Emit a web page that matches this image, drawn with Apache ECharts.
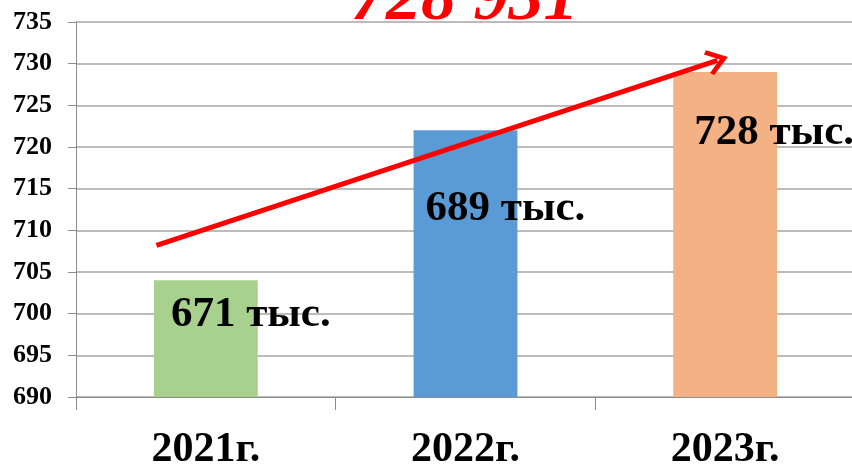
<!DOCTYPE html>
<html>
<head>
<meta charset="utf-8">
<script src="https://cdn.jsdelivr.net/npm/echarts@6/dist/echarts.min.js"></script>
<style>
  html, body { margin: 0; padding: 0; background: #fff; }
  #chart { width: 852px; height: 467px; }
</style>
</head>
<body>
<div id="chart"></div>
<script>
var years = ['2021г.', '2022г.', '2023г.']
var values = [704, 722, 729]
var barLabels = ['671 тыс.', '689 тыс.', '728 тыс.']
var barColors = ['#a9d18e', '#5b9bd5', '#f4b183']
var headline = '728 931'
// trend arrow ends, in (category position, value)
var trendStart = [-0.19, 708.2]
var trendEnd = [1.97, 730.4]

var serif = '"Liberation Serif", "Times New Roman", serif'
// where each label sits inside its bar (px from bar top-left)
var labelPos = [[17, 35], [12, 79], [21, 61]]

var chart = echarts.init(document.getElementById('chart'))

var barData = values.map(function (v, i) {
  return {
    value: v,
    itemStyle: { color: barColors[i] },
    label: { position: labelPos[i] }
  }
})

var option = {
  animation: false,
  title: {
    text: headline,
    left: 346,
    top: -39,
    textStyle: {
      color: '#ff0000',
      fontFamily: serif,
      fontStyle: 'italic',
      fontWeight: 'bold',
      fontSize: 70
    }
  },
  grid: { left: 76, right: -3, top: 22, bottom: 70, outerBoundsMode: 'none', containLabel: false },
  xAxis: [
    {
      type: 'category',
      data: years,
      axisLine: { lineStyle: { color: '#8c8c8c', width: 1 } },
      axisTick: { show: true, length: 13, lineStyle: { color: '#8c8c8c' } },
      axisLabel: {
        margin: 32,
        color: '#000',
        fontFamily: serif,
        fontWeight: 'bold',
        fontSize: 42,
        lineHeight: 42
      }
    },
    {
      type: 'value',
      show: false,
      min: -0.5,
      max: 2.5
    }
  ],
  yAxis: {
    type: 'value',
    min: 690,
    max: 735,
    interval: 5,
    axisLine: { show: true, onZero: false, lineStyle: { color: '#8c8c8c', width: 1 } },
    axisTick: { show: true, length: 8, lineStyle: { color: '#8c8c8c' } },
    splitLine: { lineStyle: { color: '#a6a6a6', width: 1.5 } },
    axisLabel: {
      margin: 24,
      color: '#000',
      fontFamily: serif,
      fontWeight: 'bold',
      fontSize: 26
    }
  },
  series: [
    {
      type: 'bar',
      barWidth: '40%',
      data: barData,
      label: {
        show: true,
        align: 'left',
        verticalAlign: 'middle',
        color: '#000',
        fontFamily: serif,
        fontWeight: 'bold',
        fontSize: 43,
        formatter: function (p) { return barLabels[p.dataIndex] }
      }
    },
    {
      type: 'scatter',
      xAxisIndex: 1,
      symbolSize: 0,
      silent: true,
      data: [trendStart, trendEnd],
      markLine: {
        silent: true,
        animation: false,
        symbol: ['none', 'path://M0,0 L10,11 L7.5,13 L0,5 L-7.5,13 L-10,11 Z'],
        symbolSize: [26, 22],
        label: { show: false },
        emphasis: { disabled: true },
        lineStyle: { color: '#ff0000', width: 5, type: 'solid' },
        data: [[{ coord: trendStart }, { coord: trendEnd }]]
      }
    }
  ]
}

chart.setOption(option)
</script>
</body>
</html>
